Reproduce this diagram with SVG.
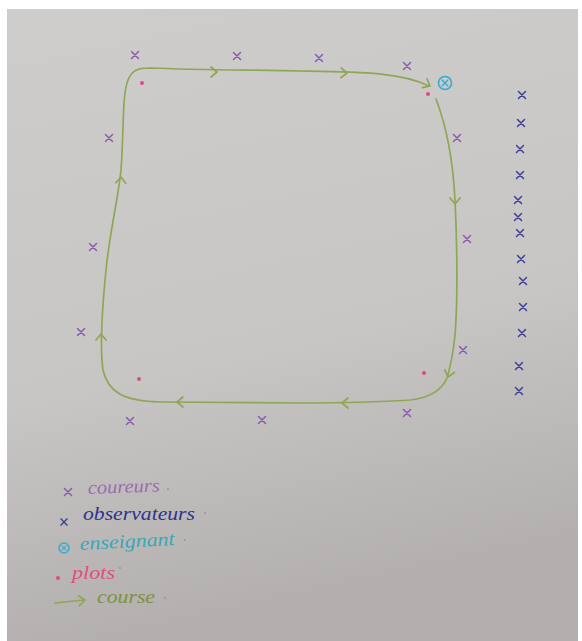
<svg xmlns="http://www.w3.org/2000/svg" xmlns:xlink="http://www.w3.org/1999/xlink" width="582" height="641" viewBox="0 0 582 641">
<defs>
<linearGradient id="paper" x1="0" y1="0" x2="0.2" y2="1">
<stop offset="0" stop-color="#cfcdcb"/>
<stop offset="0.6" stop-color="#c8c6c4"/>
<stop offset="1" stop-color="#b2afae"/>
</linearGradient>
<path id="chev" d="M-6,-5 L0,0 L-6,5"/>
<path id="xr" d="M-3.5,-3.5 L3.5,3.5 M-3.5,3.5 L3.5,-3.5"/>
</defs>
<style>
.course{fill:none;stroke:#8fa656;stroke-width:1.7;stroke-linecap:round;stroke-linejoin:round}
.cour{fill:none;stroke:#8a5aae;stroke-width:1.5;stroke-linecap:round}
.obs{fill:none;stroke:#3d3f96;stroke-width:1.5;stroke-linecap:round}
.plot{fill:#e04a80}
.ens{fill:none;stroke:#3aaccb;stroke-width:1.6}
.lbl{font-family:"Liberation Serif",serif;font-style:italic;font-size:19px}
.dot{fill:#9a9896}
</style>
<rect x="0" y="0" width="582" height="641" fill="#ffffff"/>
<rect x="7" y="9" width="571" height="632" fill="url(#paper)"/>

<g id="connectors">
<path class="course" d="M 436,99 C 446,125 453,160 455,200 C 457,240 458,300 455,335 C 453,355 450,368 447,378 C 441,392 428,398 410,400 C 380,402 340,403 300,403 L 160,402 C 125,401 108,393 103,370 C 100,350 102,310 106,270 C 110,230 118,200 121,170 C 124,130 122,95 128,80 C 132,70 138,68 150,68 C 200,70 260,70 300,71 C 360,72 400,72 429,86"/>
<use href="#chev" class="course" transform="translate(217,72) rotate(0)"/>
<use href="#chev" class="course" transform="translate(347,73) rotate(2)"/>
<use href="#chev" class="course" transform="translate(430,86) rotate(28)"/>
<use href="#chev" class="course" transform="translate(455,204) rotate(90)"/>
<use href="#chev" class="course" transform="translate(448,377) rotate(105)"/>
<use href="#chev" class="course" transform="translate(342,403) rotate(180)"/>
<use href="#chev" class="course" transform="translate(177,402) rotate(180)"/>
<use href="#chev" class="course" transform="translate(101,334) rotate(-90)"/>
<use href="#chev" class="course" transform="translate(121,177) rotate(-87)"/>
</g>

<g id="coureurs">
<use href="#xr" class="cour" x="135" y="55"/>
<use href="#xr" class="cour" x="237" y="56"/>
<use href="#xr" class="cour" x="319" y="58"/>
<use href="#xr" class="cour" x="407" y="66"/>
<use href="#xr" class="cour" x="457" y="138"/>
<use href="#xr" class="cour" x="467" y="239"/>
<use href="#xr" class="cour" x="463" y="350"/>
<use href="#xr" class="cour" x="407" y="413"/>
<use href="#xr" class="cour" x="262" y="420"/>
<use href="#xr" class="cour" x="130" y="421"/>
<use href="#xr" class="cour" x="81" y="332"/>
<use href="#xr" class="cour" x="93" y="247"/>
<use href="#xr" class="cour" x="109" y="138"/>
</g>

<g id="plots">
<circle class="plot" cx="142" cy="83" r="2"/>
<circle class="plot" cx="428" cy="94" r="2"/>
<circle class="plot" cx="139" cy="379" r="2"/>
<circle class="plot" cx="424" cy="373" r="2"/>
</g>

<g id="enseignant">
<circle class="ens" cx="445" cy="83" r="6.5"/>
<use href="#xr" class="ens" transform="translate(445,83) scale(0.9)"/>
</g>

<g id="observateurs">
<use href="#xr" class="obs" x="522" y="95"/>
<use href="#xr" class="obs" x="521" y="123"/>
<use href="#xr" class="obs" x="520" y="149"/>
<use href="#xr" class="obs" x="520" y="175"/>
<use href="#xr" class="obs" x="518" y="200"/>
<use href="#xr" class="obs" x="518" y="217"/>
<use href="#xr" class="obs" x="520" y="233"/>
<use href="#xr" class="obs" x="521" y="259"/>
<use href="#xr" class="obs" x="523" y="281"/>
<use href="#xr" class="obs" x="523" y="307"/>
<use href="#xr" class="obs" x="522" y="333"/>
<use href="#xr" class="obs" x="519" y="366"/>
<use href="#xr" class="obs" x="519" y="391"/>
</g>

<g id="legend">
<g id="legend-coureurs">
<use href="#xr" class="cour" x="68" y="492"/>
<text class="lbl" x="88" y="494" fill="#9a6cb2" textLength="72" lengthAdjust="spacingAndGlyphs" transform="rotate(-2 88 494)">coureurs</text>
<circle class="dot" cx="168" cy="489" r="1"/>
</g>
<g id="legend-observateurs">
<use href="#xr" class="obs" transform="translate(64,522) scale(0.9)"/>
<text class="lbl" x="83" y="520" fill="#2f3290" textLength="112" lengthAdjust="spacingAndGlyphs">observateurs</text>
<circle class="dot" cx="205" cy="513" r="1"/>
</g>
<g id="legend-enseignant">
<circle class="ens" cx="64" cy="548" r="5"/>
<use href="#xr" class="ens" transform="translate(64,548) scale(0.7)"/>
<text class="lbl" x="80" y="550" fill="#3aa6b8" textLength="95" lengthAdjust="spacingAndGlyphs" transform="rotate(-3 80 550)">enseignant</text>
<circle class="dot" cx="185" cy="540" r="1"/>
</g>
<g id="legend-plots">
<circle class="plot" cx="58" cy="578" r="2"/>
<text class="lbl" x="72" y="579" fill="#e0507c" textLength="43" lengthAdjust="spacingAndGlyphs">plots</text>
<circle class="dot" cx="120" cy="568" r="1"/>
</g>
<g id="legend-course">
<path class="course" d="M 55,603 L 84,600"/>
<use href="#chev" class="course" transform="translate(85,600) rotate(-6)"/>
<text class="lbl" x="97" y="603" fill="#7e913f" textLength="58" lengthAdjust="spacingAndGlyphs">course</text>
<circle class="dot" cx="165" cy="598" r="1"/>
</g>
</g>
</svg>
